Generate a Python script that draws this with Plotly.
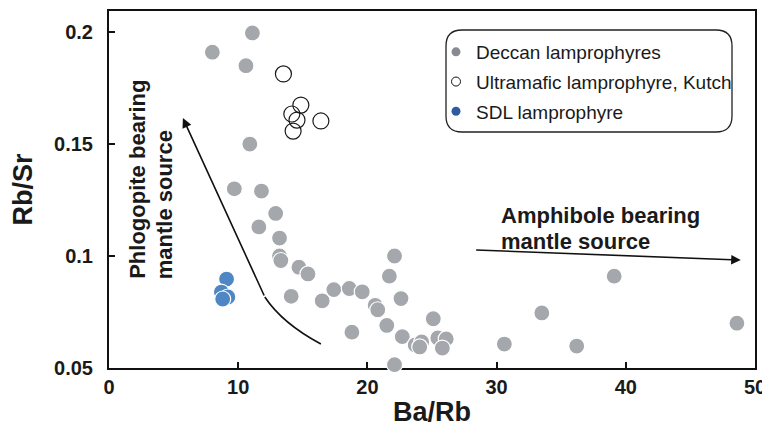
import plotly.graph_objects as go

# Deccan lamprophyres
deccan_x = [8.0, 11.1, 10.6, 10.9, 9.7, 11.8, 12.9, 11.6, 13.2, 13.2, 13.3, 14.7, 15.4,
            14.1, 16.5, 17.4, 18.6, 19.6, 18.8, 20.6, 20.8, 22.1, 21.7, 22.6, 21.5, 22.7,
            22.1, 25.1, 23.7, 24.2, 24.05, 25.45, 26.1, 25.8, 30.6, 33.5, 36.2, 39.1, 48.6]
deccan_y = [0.191, 0.1996, 0.185, 0.150, 0.130, 0.129, 0.119, 0.113, 0.108, 0.100, 0.098,
            0.095, 0.092, 0.082, 0.080, 0.085, 0.0855, 0.084, 0.066, 0.078, 0.076, 0.100,
            0.091, 0.081, 0.069, 0.064, 0.0515, 0.072, 0.0603, 0.0616, 0.0594, 0.0634,
            0.063, 0.0589, 0.0607, 0.0746, 0.0598, 0.091, 0.070]

# Ultramafic lamprophyre, Kutch
kutch_x = [13.5, 14.85, 14.15, 14.55, 14.25, 16.4]
kutch_y = [0.1813, 0.1674, 0.1634, 0.1607, 0.1558, 0.1603]

# SDL lamprophyre
sdl_x = [9.1, 8.7, 9.2, 8.8]
sdl_y = [0.0897, 0.0839, 0.0817, 0.0808]

legend_names = ["Deccan lamprophyres", "Ultramafic lamprophyre, Kutch", "SDL lamprophyre"]

x_ticks = [0, 10, 20, 30, 40, 50]
y_ticks = [0.05, 0.1, 0.15, 0.2]

GRAY = "#a4a7ab"
BLUE = "#4f86c4"
FONT = "Liberation Sans, Arial, sans-serif"

fig = go.Figure()

fig.add_trace(go.Scatter(x=deccan_x, y=deccan_y, mode="markers", showlegend=False,
                         cliponaxis=False,
                         marker=dict(size=16, color=GRAY, line=dict(color="white", width=1.2))))
fig.add_trace(go.Scatter(x=kutch_x, y=kutch_y, mode="markers", showlegend=False,
                         cliponaxis=False,
                         marker=dict(size=16, symbol="circle-open", color="#1a1a1a",
                                     line=dict(width=1.2))))
fig.add_trace(go.Scatter(x=sdl_x, y=sdl_y, mode="markers", showlegend=False,
                         cliponaxis=False,
                         marker=dict(size=16, color=BLUE, line=dict(color="white", width=1.2))))

# legend entries
leg_styles = [
    dict(size=9, color="#878b90"),
    dict(size=9, symbol="circle-open", color="#111111", line=dict(width=1)),
    dict(size=9, color="#2f5c9c"),
]
for i, (name, st) in enumerate(zip(legend_names, leg_styles)):
    fig.add_trace(go.Scatter(x=[None], y=[None], mode="markers", name=name,
                             legendgroup=str(i), marker=st))

# arrows
fig.add_shape(type="path", xref="x", yref="y",
              path="M 16.4,0.0607 Q 13.4,0.0700 12.06,0.0817",
              line=dict(color="#111111", width=1.6))
fig.add_annotation(x=5.72, y=0.1616, ax=12.06, ay=0.0817, xref="x", yref="y",
                   axref="x", ayref="y", text="", showarrow=True, arrowhead=2,
                   arrowsize=1.2, arrowwidth=1.6, arrowcolor="#111111")
fig.add_annotation(x=48.9, y=0.0982, ax=28.3, ay=0.1027, xref="x", yref="y",
                   axref="x", ayref="y", text="", showarrow=True, arrowhead=2,
                   arrowsize=1.2, arrowwidth=1.6, arrowcolor="#111111")

label_font = dict(family=FONT, size=22, color="#1a1a1a")
fig.add_annotation(x=30.15, y=0.1179, xref="x", yref="y", text="<b>Amphibole bearing</b>",
                   showarrow=False, xanchor="left", yanchor="middle", font=label_font)
fig.add_annotation(x=30.15, y=0.1063, xref="x", yref="y", text="<b>mantle source</b>",
                   showarrow=False, xanchor="left", yanchor="middle", font=label_font)
fig.add_annotation(x=2.2, y=0.0889, xref="x", yref="y", text="<b>Phlogopite bearing</b>",
                   showarrow=False, textangle=-90, xanchor="center", yanchor="bottom",
                   font=label_font)
fig.add_annotation(x=4.25, y=0.0889, xref="x", yref="y", text="<b>mantle source</b>",
                   showarrow=False, textangle=-90, xanchor="center", yanchor="bottom",
                   font=label_font)

# page has an 8px body margin: figure pixel = screen pixel - 8
OFF = 8
L, R, T, B = 109 - OFF, 15, 11 - OFF, 68
W, H = 770 - OFF, 436 - OFF
PW, PH = W - L - R, H - T - B


def px2paper(px, py):
    return (px - OFF - L) / PW, (H - B - (py - OFF)) / PH


x0, y0 = px2paper(446, 132)
x1, y1 = px2paper(732, 30)
rx = 16 / PW
ry = 16 / PH
path = (f"M {x0+rx},{y1} L {x1-rx},{y1} Q {x1},{y1} {x1},{y1-ry} "
        f"L {x1},{y0+ry} Q {x1},{y0} {x1-rx},{y0} L {x0+rx},{y0} "
        f"Q {x0},{y0} {x0},{y0+ry} L {x0},{y1-ry} Q {x0},{y1} {x0+rx},{y1} Z")
fig.add_shape(type="path", xref="paper", yref="paper", path=path,
              line=dict(color="#222222", width=1.3), fillcolor="rgba(0,0,0,0)")

axis_common = dict(showline=True, linecolor="#111111", linewidth=2, mirror=True,
                   ticks="inside", ticklen=6, tickwidth=1.5, tickcolor="#111111",
                   showgrid=False, zeroline=False, layer="below traces", automargin=False,
                   tickfont=dict(family=FONT, size=20, color="#1a1a1a", weight="bold"))

fig.update_layout(
    width=W, height=H,
    margin=dict(l=L, r=R, t=T, b=B, autoexpand=False),
    paper_bgcolor="white", plot_bgcolor="white",
    font=dict(family=FONT, color="#1a1a1a"),
    xaxis=dict(range=[0, 50], tickvals=x_ticks, ticktext=[str(v) for v in x_ticks],
               title=dict(text="<b>Ba/Rb</b>", font=dict(size=27), standoff=5),
               **axis_common),
    yaxis=dict(range=[0.05, 0.2094], tickvals=y_ticks,
               ticktext=["0.05", "0.1", "0.15", "0.2"],
               title=dict(text="<b>Rb/Sr</b>", font=dict(size=27), standoff=16),
               ticklabelstandoff=10,
               **axis_common),
    showlegend=True,
    legend=dict(x=px2paper(436, 0)[0], y=px2paper(0, 33)[1], xanchor="left", yanchor="top",
                bgcolor="rgba(0,0,0,0)", borderwidth=0, tracegroupgap=2,
                font=dict(family=FONT, size=19, color="#1a1a1a"),
                itemwidth=30),
)

fig.write_html("out.html")
